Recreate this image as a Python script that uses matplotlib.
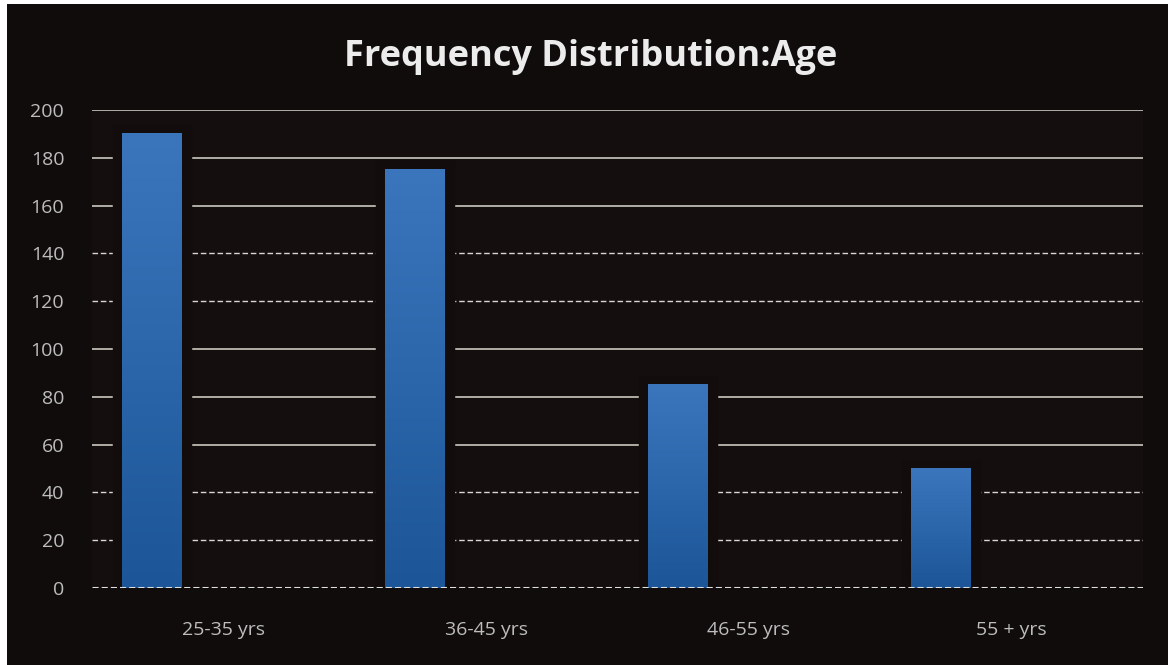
import matplotlib
matplotlib.use("Agg")
import matplotlib.pyplot as plt
import numpy as np
from matplotlib.patches import Rectangle
from matplotlib.colors import LinearSegmentedColormap

categories = ["25-35 yrs", "36-45 yrs", "46-55 yrs", "55 + yrs"]
values = [190, 175, 85, 50]
yticks = [0, 20, 40, 60, 80, 100, 120, 140, 160, 180, 200]
dotted_levels = [20, 40, 120, 140]
title = "Frequency Distribution:Age"

W, H = 1172, 665
fig = plt.figure(figsize=(W / 100, H / 100), dpi=100)
fig.patch.set_facecolor("white")
bg = Rectangle((7 / W, 0), (1168 - 7) / W, 661 / H,
               transform=fig.transFigure, facecolor="#100c0b",
               edgecolor="none", zorder=-10)
fig.add_artist(bg)

ax = fig.add_axes([92 / W, (H - 588) / H, (1143 - 92) / W, (588 - 110) / H])
ax.set_zorder(5)
ax.set_facecolor("#140f0e")

for lvl in yticks[1:]:
    if lvl in dotted_levels:
        ax.axhline(lvl, color="#d8d6d0", lw=1.0, ls=(0, (4, 2)), zorder=1)
    else:
        ax.axhline(lvl, color="#cbc8c0", lw=1.2, zorder=1)

x = np.arange(len(categories))
offset = -0.27
width = 0.228
# dark glow around bars
ax.bar(x + offset, values, width=width, color="#140f0e", edgecolor="#120d0c",
       linewidth=14, zorder=2)
bars = ax.bar(x + offset, values, width=width, color="#2e66a8", zorder=3)

grad = np.linspace(0, 1, 256).reshape(-1, 1)
cmap = LinearSegmentedColormap.from_list("b", ["#1c5698", "#3b76bd"])
for b in bars:
    x0, y0 = b.get_x(), b.get_y()
    ax.imshow(grad, extent=[x0, x0 + b.get_width(), y0, y0 + b.get_height()],
              origin="lower", cmap=cmap, aspect="auto", zorder=3.5)
ax.set_xlim(-0.5, 3.5)
ax.set_ylim(0, 200)

ax.axhline(0, color="#e0e0e0", lw=2.2, ls=(0, (2, 1)), zorder=5)

for s in ax.spines.values():
    s.set_visible(False)
ax.set_yticks(yticks)
ax.set_yticklabels([str(t) for t in yticks], fontsize=14, color="#bdbdbd",
                   family="Open Sans")
ax.tick_params(axis="y", length=0, pad=20)
ax.set_xticks(x)
ax.set_xticklabels(categories, fontsize=14, color="#bdbdbd", family="Open Sans")
ax.tick_params(axis="x", length=0, pad=24)

fig.text(591 / W, (H - 57) / H, title, ha="center", va="center", fontsize=26,
         fontweight="bold", color="#ececec", family="Open Sans")

fig.savefig("out.png", dpi=100, facecolor=fig.get_facecolor())
